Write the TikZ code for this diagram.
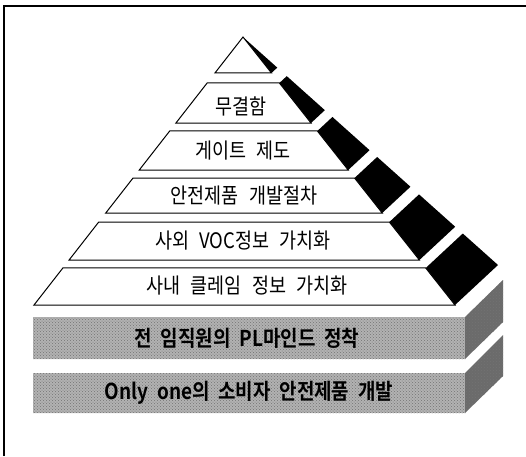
\documentclass[tikz,border=0pt]{standalone}
\usepackage{fontspec}
\usetikzlibrary{calc,patterns}
\newfontfamily\kr[WordSpace=2.5]{Noto Sans CJK KR}
\newfontfamily\krbold[WordSpace=2.0]{Noto Sans CJK KR Bold}
\definecolor{grayfront}{gray}{0.70}
\definecolor{grayside}{gray}{0.42}
\newcommand\mklevel[2]{%
  \coordinate (#1l) at ($(A)!#2!(FL)$);
  \coordinate (#1r) at ($(A)!#2!(FR)$);
  \coordinate (#1b) at ($(A)!#2!(BK)$);}
\newcommand\tallK[1]{\scalebox{1}[1.15]{#1}}
\tikzset{
  face/.style={draw=black, line width=1pt, fill=white, line join=miter},
  sideface/.style={fill=black},
  lbl/.style={font=\kr\fontsize{18.5}{18.5}\selectfont, inner sep=0pt},
  glbl/.style={font=\krbold\fontsize{19}{19}\selectfont, inner sep=0pt},
  frontblock/.style={fill=grayfront},
  sideblock/.style={fill=grayside},
  dots/.style={pattern=crosshatch dots, pattern color=black!55},
  frameline/.style={line width=1.2pt}
}
\begin{document}
\begin{tikzpicture}[x=1pt,y=-1pt]
\useasboundingbox (0,0) rectangle (526,456);
\fill[white] (0,0) rectangle (526,456);
% frame
\coordinate (fa) at (4,456);
\coordinate (fb) at (4,6);
\coordinate (fc) at (526,6);
\draw[frameline] (fa) -- (fb) -- (fc);
% pyramid geometry
\coordinate (A) at (243,37);
\coordinate (FL) at (34,305);
\coordinate (FR) at (455,305);
\coordinate (BK) at (498,265);
\mklevel{p0}{0.1343}
\mklevel{p1}{0.1716}
\mklevel{q1}{0.3209}
\mklevel{p2}{0.3507}
\mklevel{q2}{0.4963}
\mklevel{p3}{0.5261}
\mklevel{q3}{0.6567}
\mklevel{p4}{0.6903}
\mklevel{q4}{0.8321}
\mklevel{p5}{0.8619}
\mklevel{q5}{1}
% top triangle
\fill[sideface] (A) -- (p0r) -- (p0b) -- cycle;
\draw[face] (A) -- (p0l) -- (p0r) -- cycle;
% layers
\foreach \i in {1,...,5}{
  \fill[sideface] (p\i r) -- (p\i b) -- (q\i b) -- (q\i r) -- cycle;
  \draw[face] (p\i l) -- (p\i r) -- (q\i r) -- (q\i l) -- cycle;
}
\node[lbl] (t1) at (241,106) {\tallK{무결함}};
\node[lbl] (t2) at (243,151) {\tallK{게이트 제도}};
\node[lbl] (t3) at (244,196) {\tallK{안전제품 개발절차}};
\node[lbl] (t4) at (243,241) {\tallK{사외 VOC정보 가치화}};
\node[lbl] (t5) at (247,286) {\tallK{사내 클레임 정보 가치화}};
% gray blocks
\fill[frontblock] (33,317) rectangle (465,359);
\fill[dots] (33,317) rectangle (465,359);
\fill[sideblock] (465,317) -- (503,280) -- (503,322) -- (465,359) -- cycle;
\fill[dots] (465,317) -- (503,280) -- (503,322) -- (465,359) -- cycle;
\fill[frontblock] (33,373) rectangle (465,413);
\fill[dots] (33,373) rectangle (465,413);
\fill[sideblock] (465,373) -- (503,335) -- (503,376) -- (465,413) -- cycle;
\fill[dots] (465,373) -- (503,335) -- (503,376) -- (465,413) -- cycle;
\node[glbl] (g1) at (247,338) {\tallK{전 임직원의 PL마인드 정착}};
\node[glbl] (g2) at (249,393) {\tallK{Only one의 소비자 안전제품 개발}};
\end{tikzpicture}
\end{document}
